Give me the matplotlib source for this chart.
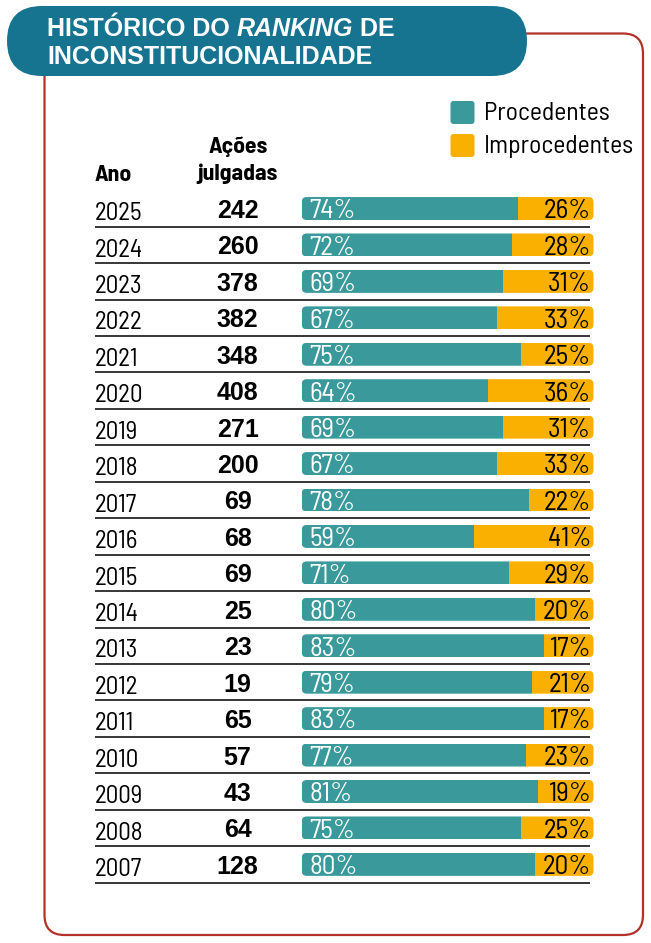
import matplotlib
matplotlib.use("Agg")
import matplotlib.pyplot as plt
from matplotlib.patches import FancyBboxPatch
from matplotlib.transforms import blended_transform_factory

REG = ['Barlow Semi Condensed', 'DejaVu Sans']
BOLD_NUM = ['Liberation Sans', 'DejaVu Sans']
TITLE = ['Liberation Sans', 'DejaVu Sans']
plt.rcParams['font.family'] = REG

# data
years = [2025, 2024, 2023, 2022, 2021, 2020, 2019, 2018, 2017, 2016,
         2015, 2014, 2013, 2012, 2011, 2010, 2009, 2008, 2007]
judged = [242, 260, 378, 382, 348, 408, 271, 200, 69, 68,
          69, 25, 23, 19, 65, 57, 43, 64, 128]
procedentes = [74, 72, 69, 67, 75, 64, 69, 67, 78, 59,
               71, 80, 83, 79, 83, 77, 81, 75, 80]
improcedentes = [26, 28, 31, 33, 25, 36, 31, 33, 22, 41,
                 29, 20, 17, 21, 17, 23, 19, 25, 20]

TEAL = '#3a9a9b'
ORANGE = '#f9b000'
TITLE_BG = '#177491'
BORDER = '#b2322a'

W, H = 651, 943
fig = plt.figure(figsize=(W / 100, H / 100), dpi=100)

# background axes in pixel coordinates (frame, title, headers, legend)
bg = fig.add_axes([0, 0, 1, 1])
bg.set_xlim(0, W)
bg.set_ylim(H, 0)
bg.axis('off')

frame = FancyBboxPatch((44.5, 33.5), 598.5, 901.5,
                       boxstyle='round,pad=0,rounding_size=20',
                       fc='white', ec=BORDER, lw=1.6)
bg.add_patch(frame)
pill = FancyBboxPatch((7, 6), 520, 70,
                      boxstyle='round,pad=0,rounding_size=35',
                      fc=TITLE_BG, ec='none')
bg.add_patch(pill)

tfont = dict(family=TITLE, weight='bold', color='white', fontsize=18)
t1 = bg.text(47, 35.5, 'HISTÓRICO DO ', va='baseline', **tfont)
t2 = bg.annotate('RANKING', xy=(1, 0), xycoords=t1, va='bottom', ha='left',
                 style='italic', **tfont)
bg.annotate(' DE', xy=(1, 0), xycoords=t2, va='bottom', ha='left', **tfont)
bg.text(47, 63.5, 'INCONSTITUCIONALIDADE', va='baseline', **tfont)

# column headers
hfont = dict(fontsize=17, weight='bold', va='baseline')
bg.text(95, 180.7, 'Ano', **hfont)
bg.text(237.7, 152.7, 'Ações', ha='center', **hfont)
bg.text(237.7, 180, 'julgadas', ha='center', **hfont)

# legend
for ypx, col, lab in [(101, TEAL, 'Procedentes'), (134, ORANGE, 'Improcedentes')]:
    bg.add_patch(FancyBboxPatch((450.5, ypx), 24, 23,
                                boxstyle='round,pad=0,rounding_size=3',
                                fc=col, ec='none'))
    bg.text(484, ypx + 12, lab, fontsize=18.5, va='center', ha='left')

# bars axes: x in percent, y in rows
n = len(years)
left_px, right_px = 301.7, 593.5
top_px, bot_px = 190.3, 882.6
ax = fig.add_axes([left_px / W, 1 - bot_px / H,
                   (right_px - left_px) / W, (bot_px - top_px) / H])
ax.set_xlim(0, 100)
ax.set_ylim(n - 0.5, -0.5)
ax.axis('off')
ax.patch.set_alpha(0)

rows = list(range(n))
bar_h = 0.63
teal_bars = ax.barh(rows, procedentes, height=bar_h, color=TEAL)
orange_bars = ax.barh(rows, improcedentes, left=procedentes, height=bar_h, color=ORANGE)

# rounded ends via clip path
px_per_x = (right_px - left_px) / 100
px_per_row = (bot_px - top_px) / n
aspect = (1 / px_per_row) / (1 / px_per_x)
for i in rows:
    clip = FancyBboxPatch((0, i - bar_h / 2), 100, bar_h,
                          boxstyle='round,pad=0,rounding_size=%.3f' % (5 / px_per_x),
                          mutation_aspect=aspect, transform=ax.transData,
                          fc='none', ec='none')
    teal_bars[i].set_clip_path(clip)
    orange_bars[i].set_clip_path(clip)

mix = blended_transform_factory(bg.transData, ax.transData)
for i in rows:
    ax.text(2.6, i + 0.27, f'{procedentes[i]}%', color='white', fontsize=19.5,
            va='baseline', ha='left')
    ax.text(99.2, i + 0.27, f'{improcedentes[i]}%', color='black', fontsize=19.5,
            va='baseline', ha='right')
    ax.text(95, i + 0.32, str(years[i]), fontsize=18, va='baseline', ha='left',
            transform=mix, clip_on=False)
    ax.text(237.7, i + 0.26, str(judged[i]), fontsize=18, weight='bold',
            family=BOLD_NUM, va='baseline', ha='center',
            transform=mix, clip_on=False)
    ax.plot([95, 590], [i + 0.5, i + 0.5], color='black', lw=1.1,
            transform=mix, clip_on=False, solid_capstyle='butt')

fig.savefig('out.png', dpi=100)
